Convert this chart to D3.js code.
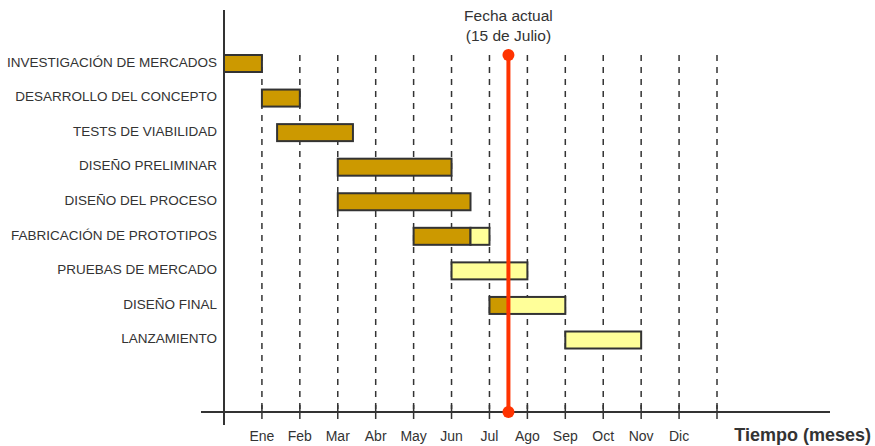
<!DOCTYPE html>
<html>
<head>
<meta charset="utf-8">
<script src="https://cdn.jsdelivr.net/npm/d3@7"></script>
<style>
  body { margin: 0; background: #fff; }
  text { font-family: "Liberation Sans", Arial, sans-serif; fill: #333; }
</style>
</head>
<body>
<div id="chart"></div>
<script>
// tasks, from top to bottom
const tasks = [
  "INVESTIGACIÓN DE MERCADOS",
  "DESARROLLO DEL CONCEPTO",
  "TESTS DE VIABILIDAD",
  "DISEÑO PRELIMINAR",
  "DISEÑO DEL PROCESO",
  "FABRICACIÓN DE PROTOTIPOS",
  "PRUEBAS DE MERCADO",
  "DISEÑO FINAL",
  "LANZAMIENTO"
];
// start / end in months, done part and pending part
const doneStart = [0, 1, 1.4, 3, 3, 5, null, 7, null];
const doneEnd = [1, 2, 3.4, 6, 6.5, 6.5, null, 7.5, null];
const todoStart = [null, null, null, null, null, 6.5, 6, 7.5, 9];
const todoEnd = [null, null, null, null, null, 7, 8, 9, 11];

const months = ["Ene", "Feb", "Mar", "Abr", "May", "Jun", "Jul", "Ago", "Sep", "Oct", "Nov", "Dic"];
const gridMonths = [1, 2, 3, 4, 5, 6, 7, 8, 9, 10, 11, 12, 13];
const today = 7.5;

const W = 875, H = 446;
const svg = d3.select("#chart").append("svg").attr("width", W).attr("height", H);

const x = d3.scaleLinear().domain([0, 13]).range([224, 717]);
const y = d3.scalePoint().domain(tasks).range([63.5, 340]);
const axisY = 412;
const barH = 17;

// dashed month lines
svg.append("g").selectAll("line").data(gridMonths).join("line")
  .attr("x1", d => x(d)).attr("x2", d => x(d))
  .attr("y1", 55).attr("y2", axisY)
  .attr("stroke", "#333").attr("stroke-width", 1.5)
  .attr("stroke-dasharray", "6,6");

// x axis
svg.append("line").attr("x1", 201).attr("x2", 830).attr("y1", axisY).attr("y2", axisY)
  .attr("stroke", "#333").attr("stroke-width", 2);
svg.append("g").selectAll("line").data(gridMonths).join("line")
  .attr("x1", d => x(d)).attr("x2", d => x(d))
  .attr("y1", axisY - 7).attr("y2", axisY + 7)
  .attr("stroke", "#333").attr("stroke-width", 1.5);
svg.append("g").selectAll("text").data(months).join("text")
  .attr("x", (d, i) => x(i + 1)).attr("y", 441)
  .attr("text-anchor", "middle").attr("font-size", 14)
  .text(d => d);
svg.append("text").attr("x", 871).attr("y", 441).attr("text-anchor", "end")
  .attr("font-size", 18).attr("font-weight", "bold").text("Tiempo (meses)");

// y axis
svg.append("line").attr("x1", x(0)).attr("x2", x(0)).attr("y1", 10).attr("y2", 425)
  .attr("stroke", "#333").attr("stroke-width", 2);
svg.append("g").selectAll("text").data(tasks).join("text")
  .attr("x", 217).attr("y", d => y(d) - 1.5).attr("dy", "0.35em")
  .attr("text-anchor", "end").attr("font-size", 13.5)
  .text(d => d);

// bars
const rows = tasks.map((t, i) => ({ t, ds: doneStart[i], de: doneEnd[i], ts: todoStart[i], te: todoEnd[i] }));
svg.append("g").selectAll("rect").data(rows.filter(d => d.ds !== null)).join("rect")
  .attr("x", d => x(d.ds)).attr("width", d => x(d.de) - x(d.ds))
  .attr("y", d => y(d.t) - barH / 2).attr("height", barH)
  .attr("fill", "#cc9900").attr("stroke", "#333").attr("stroke-width", 2);
svg.append("g").selectAll("rect").data(rows.filter(d => d.ts !== null)).join("rect")
  .attr("x", d => x(d.ts)).attr("width", d => x(d.te) - x(d.ts))
  .attr("y", d => y(d.t) - barH / 2).attr("height", barH)
  .attr("fill", "#ffff99").attr("stroke", "#333").attr("stroke-width", 2);

// current date line
svg.append("line").attr("x1", x(today)).attr("x2", x(today)).attr("y1", 55).attr("y2", axisY)
  .attr("stroke", "#ff3300").attr("stroke-width", 4);
svg.selectAll("circle.end").data([55, axisY]).join("circle")
  .attr("cx", x(today)).attr("cy", d => d).attr("r", 6).attr("fill", "#ff3300");
svg.append("text").attr("x", x(today)).attr("y", 21).attr("text-anchor", "middle")
  .attr("font-size", 15.5).text("Fecha actual");
svg.append("text").attr("x", x(today)).attr("y", 41).attr("text-anchor", "middle")
  .attr("font-size", 15.5).text("(15 de Julio)");
</script>
</body>
</html>
